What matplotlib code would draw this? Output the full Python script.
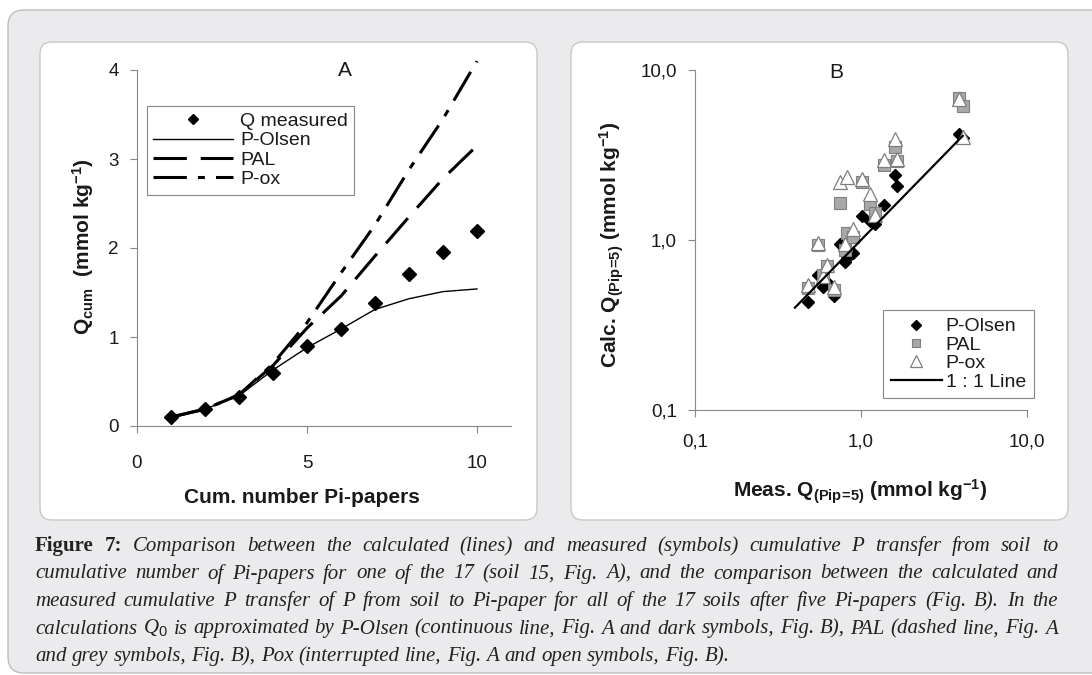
import matplotlib
matplotlib.use("Agg")
import matplotlib.pyplot as plt
from matplotlib.patches import FancyBboxPatch
from matplotlib.ticker import FixedLocator, FixedFormatter, NullLocator

# ---------------- data ----------------
papers = [1, 2, 3, 4, 5, 6, 7, 8, 9, 10]
q_measured = [0.10, 0.19, 0.33, 0.60, 0.90, 1.09, 1.38, 1.71, 1.96, 2.19]
q_olsen = [0.10, 0.19, 0.34, 0.63, 0.88, 1.09, 1.31, 1.43, 1.51, 1.54]
q_pal = [0.10, 0.19, 0.35, 0.68, 1.10, 1.46, 1.91, 2.35, 2.78, 3.15]
q_pox = [0.10, 0.19, 0.35, 0.70, 1.16, 1.72, 2.26, 2.88, 3.45, 4.10]

soil_meas = [0.48, 0.55, 0.59, 0.62, 0.69, 0.75, 0.80, 0.82, 0.90, 1.02, 1.14, 1.21, 1.38, 1.60, 1.64, 3.90, 4.10]
calc_olsen = [0.43, 0.62, 0.53, 0.57, 0.47, 0.95, 0.74, 0.78, 0.84, 1.39, 1.30, 1.24, 1.61, 2.41, 2.09, 4.20, 4.00]
calc_pal = [0.52, 0.93, 0.62, 0.70, 0.51, 1.65, 0.87, 1.10, 1.04, 2.20, 1.62, 1.45, 2.76, 3.51, 2.92, 6.80, 6.17]
calc_pox = [0.54, 0.96, 0.61, 0.71, 0.53, 2.18, 0.95, 2.34, 1.16, 2.30, 1.86, 1.40, 2.97, 3.93, 2.99, 6.74, 4.01]
line_11 = [0.40, 4.10]

a_xticks = [0, 5, 10]
a_yticks = [0, 1, 2, 3, 4]
b_ticks = [0.1, 1.0, 10.0]
b_ticklabels = ["0,1", "1,0", "10,0"]

cap_lines = [
    "Figure 7: Comparison between the calculated (lines) and measured (symbols) cumulative P transfer from soil to",
    "cumulative number of Pi-papers for one of the 17 (soil 15, Fig. A), and the comparison between the calculated and",
    "measured cumulative P transfer of P from soil to Pi-paper for all of the 17 soils after five Pi-papers (Fig. B). In the",
    "calculations $\\mathit{Q_0}$ is approximated by P-Olsen (continuous line, Fig. A and dark symbols, Fig. B), PAL (dashed line, Fig. A",
    "and grey symbols, Fig. B), Pox (interrupted line, Fig. A and open symbols, Fig. B).",
]

# ---------------- style ----------------
plt.rcParams['font.family'] = ['Liberation Sans', 'DejaVu Sans']
plt.rcParams['mathtext.fontset'] = 'custom'
plt.rcParams['mathtext.rm'] = 'Liberation Sans'
plt.rcParams['mathtext.bf'] = 'Liberation Sans:bold'
plt.rcParams['mathtext.it'] = 'Liberation Serif:italic'
plt.rcParams['lines.scale_dashes'] = False

TXT = '#1a1a1a'
SPINE = '#888888'

W, H = 1092, 675
fig = plt.figure(figsize=(W / 100, H / 100), dpi=100)
fig.patch.set_facecolor('white')

bg = fig.add_axes([0, 0, 1, 1])
bg.set_xlim(0, W)
bg.set_ylim(H, 0)
bg.set_axis_off()
bg.set_zorder(0)

bg.add_patch(FancyBboxPatch((8, 10), W + 60, 663, boxstyle="round,pad=0,rounding_size=16",
                            fc='#ebebed', ec='#bdbdbd', lw=1.0))
for x0 in (40, 571):
    bg.add_patch(FancyBboxPatch((x0, 42), 497, 478, boxstyle="round,pad=0,rounding_size=12",
                                fc='white', ec='#c8c8c8', lw=1.0))


def style_axes(ax):
    for s in ('top', 'right'):
        ax.spines[s].set_visible(False)
    for s in ('left', 'bottom'):
        ax.spines[s].set_color(SPINE)
        ax.spines[s].set_linewidth(0.8)
    ax.tick_params(direction='out', length=5, width=0.8, color=SPINE,
                   labelsize=13.5, labelcolor=TXT)
    ax.set_facecolor('none')
    ax.set_zorder(2)


# ---------------- panel A ----------------
axA = fig.add_axes([137 / W, (H - 426) / H, 374 / W, 356 / H])
style_axes(axA)
axA.plot(papers, q_olsen, color='k', lw=1.0, label='P-Olsen')
axA.plot(papers, q_pal, color='k', lw=2.2, dashes=(24, 10), dash_capstyle='butt', label='PAL')
axA.plot(papers, q_pox, color='k', lw=2.2, dashes=(24, 8, 5, 8), dash_capstyle='butt',
         label='P-ox', clip_on=False)
axA.plot(papers, q_measured, ls='none', marker='D', ms=7.6, color='k', label='Q measured', zorder=5)
axA.set_xlim(0, 11)
axA.set_ylim(0, 4)
axA.set_xticks(a_xticks)
axA.set_yticks(a_yticks)
axA.tick_params(axis='y', pad=8)
axA.tick_params(axis='x', pad=16)
axA.text(0.556, 1.0, 'A', transform=axA.transAxes, ha='center', va='center', fontsize=15, color=TXT)
axA.set_xlabel('Cum. number Pi-papers', fontsize=15, fontweight='bold', color=TXT)
axA.xaxis.set_label_coords(0.441, -0.20)
axA.xaxis.label.set_va('center')
axA.set_ylabel(r'$\mathbf{Q_{cum}}$  (mmol kg$\mathbf{^{-1}}$)', fontsize=15, fontweight='bold', color=TXT)
axA.yaxis.set_label_coords(-0.144, 0.503)
axA.yaxis.label.set_va('center')

hA, lA = axA.get_legend_handles_labels()
order = [3, 0, 1, 2]
legA = axA.legend([hA[i] for i in order], [lA[i] for i in order], loc='upper left',
                  bbox_to_anchor=(147, 106), bbox_transform=bg.transData,
                  fontsize=14, frameon=True, fancybox=False, framealpha=1,
                  edgecolor=SPINE, borderpad=0.33, labelspacing=0.09,
                  handlelength=4.1, handletextpad=0.36, borderaxespad=0, markerscale=0.7)
legA.get_frame().set_linewidth(0.8)
for t in legA.get_texts():
    t.set_color(TXT)

# ---------------- panel B ----------------
axB = fig.add_axes([695 / W, (H - 410) / H, 332 / W, 340 / H])
style_axes(axB)
axB.set_xscale('log')
axB.set_yscale('log')
axB.plot(soil_meas, calc_olsen, ls='none', marker='D', ms=6.6, color='k', label='P-Olsen')
axB.plot(soil_meas, calc_pal, ls='none', marker='s', ms=8, mfc='#a8a8a8', mec='#7f7f7f',
         mew=0.8, label='PAL')
axB.plot(soil_meas, calc_pox, ls='none', marker='^', ms=10, mfc='white', mec='#7f7f7f',
         mew=0.9, label='P-ox')
axB.plot(line_11, line_11, color='k', lw=1.6, label='1 : 1 Line')
axB.set_xlim(0.1, 10)
axB.set_ylim(0.1, 10)
for axis in (axB.xaxis, axB.yaxis):
    axis.set_major_locator(FixedLocator(b_ticks))
    axis.set_major_formatter(FixedFormatter(b_ticklabels))
    axis.set_minor_locator(NullLocator())
axB.tick_params(axis='y', pad=8)
axB.tick_params(axis='x', pad=12)
axB.text(0.425, 0.994, 'B', transform=axB.transAxes, ha='center', va='center', fontsize=15, color=TXT)
axB.set_xlabel(r'Meas. $\mathbf{Q_{(Pip\!=\!5)}}$ (mmol kg$\mathbf{^{-1}}$)', fontsize=15,
               fontweight='bold', color=TXT)
axB.xaxis.set_label_coords(0.497, -0.241)
axB.xaxis.label.set_va('center')
axB.set_ylabel(r'Calc. $\mathbf{Q_{(Pip\!=\!5)}}$ (mmol kg$\mathbf{^{-1}}$)', fontsize=15,
               fontweight='bold', color=TXT)
axB.yaxis.set_label_coords(-0.25, 0.485)
axB.yaxis.label.set_va('center')

legB = axB.legend(loc='upper left', bbox_to_anchor=(883, 310), bbox_transform=bg.transData,
                  fontsize=14, frameon=True, fancybox=False, framealpha=1,
                  edgecolor=SPINE, borderpad=0.40, labelspacing=0.04,
                  handlelength=2.63, handletextpad=0.2, borderaxespad=0, markerscale=0.8)
legB.get_frame().set_linewidth(0.8)
for t in legB.get_texts():
    t.set_color(TXT)

# ---------------- caption (justified) ----------------
renderer = fig.canvas.get_renderer()
x_left, x_right = 35, 1058
avail = x_right - x_left
baselines = [551, 578.5, 606, 633.5, 661]


def tok_kw(li, wi, fs):
    bold = (li == 0 and wi < 2)
    return dict(fontsize=fs, family='Liberation Serif',
                style='normal' if bold else 'italic',
                weight='bold' if bold else 'normal', color='#222222')


def measure(s, kw):
    t = bg.text(0, 0, s, **kw)
    w = t.get_window_extent(renderer).width
    t.remove()
    return w


def natural(fs):
    kw = tok_kw(1, 5, fs)
    sp = measure('a a', kw) - measure('aa', kw)
    res = []
    for li, line in enumerate(cap_lines):
        words = line.split()
        ws = [measure(w, tok_kw(li, wi, fs)) for wi, w in enumerate(words)]
        res.append((words, ws))
    return sp, res


fs = 15.5
sp, res = natural(fs)
mx = max(sum(ws) + sp * (len(ws) - 1) for ws in [r[1] for r in res[:4]])
if mx > avail * 0.985:
    fs = fs * avail * 0.985 / mx
    sp, res = natural(fs)

for li, (words, ws) in enumerate(res):
    if li < 4:
        gap = (avail - sum(ws)) / (len(words) - 1)
    else:
        gap = sp
    x = x_left
    for wi, (w, wd) in enumerate(zip(words, ws)):
        bg.text(x, baselines[li], w, ha='left', va='baseline', **tok_kw(li, wi, fs))
        x += wd + gap

fig.savefig('out.png', dpi=100, facecolor=fig.get_facecolor())
